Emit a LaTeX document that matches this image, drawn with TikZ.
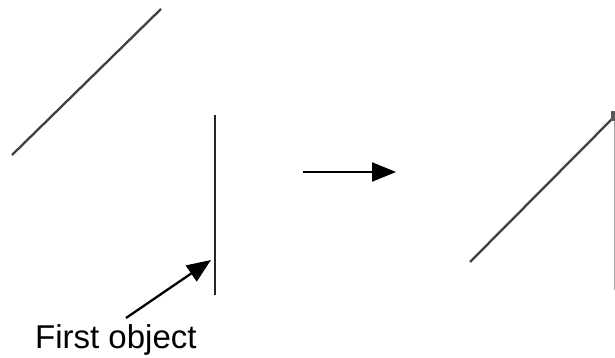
\documentclass[tikz,border=0pt]{standalone}
\usepackage{fontspec}
\setmainfont{Liberation Sans}
\usetikzlibrary{arrows.meta}
\begin{document}
\begin{tikzpicture}[x=1pt,y=-1pt,
  seg/.style={draw=black!75, line width=2.3pt},
  thin/.style={draw=black!35, line width=0.9pt},
  pointer/.style={draw=black, line width=2.3pt, -{Triangle[length=24pt,width=19pt]}},
  lbl/.style={font=\fontsize{33}{36}\selectfont, inner sep=0pt, anchor=base west}]
\useasboundingbox (0,0) rectangle (615,358);
% left diagonal line
\coordinate (a1) at (12,155);
\coordinate (a2) at (161,9);
\draw[seg] (a1) -- (a2);
% vertical object
\coordinate (v1) at (215,115);
\coordinate (v2) at (215,295);
\draw[seg, draw=black!85] (v1) -- (v2);
% middle arrow
\coordinate (m1) at (303,172);
\coordinate (m2) at (396,172);
\draw[pointer] (m1) -- (m2);
% pointer to first object
\coordinate (p1) at (126,318);
\coordinate (p2) at (211,260);
\draw[pointer] (p1) -- (p2);
\node[lbl] (label) at (35,348) {First object};
% right side result
\coordinate (r1) at (470,262);
\coordinate (r2) at (612,119);
\coordinate (t1) at (614,113);
\coordinate (t2) at (614,290);
\draw[thin] (t1) -- (t2);
\draw[seg] (r1) -- (r2);
\fill[black!65] (611,111) rectangle (615,121);
\end{tikzpicture}
\end{document}
